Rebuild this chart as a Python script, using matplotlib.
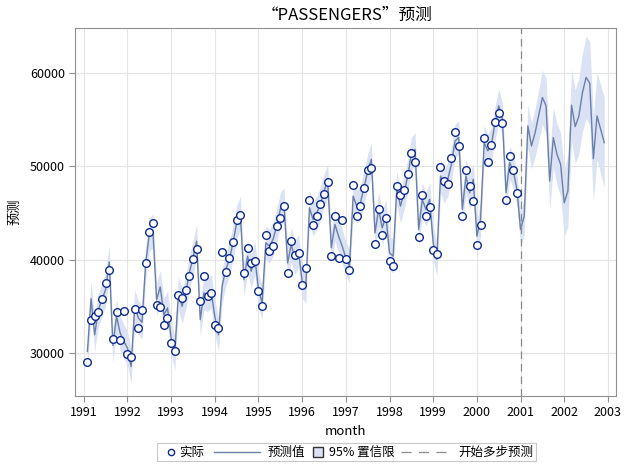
import numpy as np
import matplotlib
matplotlib.use('Agg')
import matplotlib.pyplot as plt
from matplotlib.lines import Line2D
from matplotlib.patches import Rectangle

plt.rcParams['font.family'] = ['Noto Sans CJK SC', 'DejaVu Sans']

# actual monthly values, Feb 1991 .. Dec 2000
actual = [29010, 33560, 33950, 34380, 35780, 37490, 38890, 31515, 34380, 31400, 34520,
          29900, 29550, 34740, 32700, 34630, 39680, 42970, 43940, 35140, 34920, 33020, 33770,
          31090, 30190, 36200, 35920, 36780, 38250, 40070, 41180, 35560, 38250, 36100, 36420,
          33020, 32660, 40860, 38710, 40180, 41930, 44260, 44760, 38570, 41290, 39640, 39890,
          36640, 35060, 42650, 40970, 41500, 43620, 44480, 45770, 38570, 42040, 40500, 40720,
          37280, 39110, 46410, 43720, 44690, 45980, 47060, 48350, 40400, 44690, 40210, 44260,
          40070, 38850, 48020, 44690, 45770, 47700, 49630, 49850, 41720, 45440, 42650, 44480,
          39860, 39360, 47920, 46950, 47410, 49200, 51460, 50490, 42440, 46950, 44690, 45660,
          41040, 40640, 49950, 48380, 48130, 50920, 53710, 52210, 44620, 49560, 47920, 46300,
          41610, 43720, 53070, 50420, 52320, 54790, 55680, 54610, 46410, 51060, 49630, 47090]

# one-step predictions over the same months
fitted = [30150, 35810, 31945, 34630, 35700, 36780, 39750, 30800, 33910, 32130, 31230,
          30510, 28540, 34990, 33740, 33270, 39640, 42690, 43040, 35700, 37060, 34090, 34810,
          31590, 29980, 36420, 34990, 36420, 38570, 40180, 41970, 33560, 36420, 36240, 36600,
          33910, 31950, 37140, 38930, 40000, 41790, 43940, 45010, 37850, 40360, 38750, 40180,
          36780, 35350, 41790, 41430, 42150, 43580, 45370, 45910, 39640, 41610, 40180, 40900,
          37670, 37140, 45550, 44300, 45010, 45910, 47340, 48410, 41250, 43760, 42510, 41430,
          40180, 39280, 46800, 45730, 46090, 47700, 49490, 50740, 42860, 45370, 43400, 44660,
          40720, 40360, 47700, 45730, 47160, 48950, 51280, 51810, 43220, 46450, 45370, 46450,
          41790, 40000, 48950, 47880, 48590, 50200, 52710, 53070, 45370, 48950, 47160, 48590,
          42510, 44300, 52530, 51640, 52350, 54680, 56470, 55040, 47160, 50380, 49490, 47520]

# multi-step forecast, Jan 2001 .. Dec 2002
forecast = [43220, 44650, 54320, 52170, 53600, 55500, 57370, 56470, 48410, 53070, 51280, 50200,
            46090, 47340, 56540, 54250, 55330, 57900, 59510, 58900, 50810, 55390, 53960, 52530]
fc_half = [1750, 2000, 2300, 2450, 2600, 2750, 2900, 3000, 3100, 3200, 3300, 3400,
           3600, 3750, 3850, 3950, 4050, 4200, 4400, 4500, 4550, 4650, 4750, 4850]
hist_half = 1800

t_act = 1991 + np.arange(1, 1 + len(actual)) / 12
t_fc = 2001 + np.arange(len(forecast)) / 12
t_all = np.concatenate([t_act, t_fc])
pred = np.concatenate([fitted, forecast])
half = np.concatenate([np.full(len(fitted), hist_half), fc_half])

c_band = '#dae2f4'
c_line = '#6a80a8'
c_mark = '#0d2a8c'
c_ref = '#8a8a8a'

fig = plt.figure(figsize=(6.29, 4.68), dpi=100)
ax = fig.add_axes((0.120, 0.154, 0.859, 0.786))

ax.fill_between(t_all, pred - half, pred + half, color=c_band, lw=0, zorder=1)
ax.plot(t_all, pred, color=c_line, lw=1.0, zorder=2)
ax.plot(t_act, actual, 'o', ms=5.5, mfc='white', mec=c_mark, mew=1.0, zorder=3)
ax.axvline(2001, color=c_ref, lw=0.9, ls=(0, (6, 4)), zorder=2)

ax.set_xlim(1990.81, 2003.18)
ax.set_ylim(25390, 64800)
ax.set_xticks(range(1991, 2004))
ax.set_yticks([30000, 40000, 50000, 60000])
ax.grid(True, color='#e4e4e4', lw=0.8, zorder=0)
ax.set_axisbelow(True)
for s in ax.spines.values():
    s.set_color('#8f8f8f')
ax.tick_params(colors='#8f8f8f', labelcolor='black', labelsize=9, length=4)

ax.set_xlabel('month', fontsize=9.5, labelpad=4)
ax.set_ylabel('预测', fontsize=9.5, labelpad=6)
fig.suptitle('“PASSENGERS”预测', x=0.551, y=0.986, fontsize=12)

# legend drawn by hand (pixel positions / figure size)
W, H = 629.0, 468.0
yc = 1 - 452 / H
fig.add_artist(Rectangle((157 / W, 1 - 461 / H), 379 / W, 18 / H, transform=fig.transFigure,
                         fill=False, ec='#c8c8c8', lw=0.8))
fig.add_artist(Line2D([171 / W], [yc], marker='o', ms=4.5, mfc='white', mec=c_mark, mew=1.0,
                      transform=fig.transFigure))
fig.add_artist(Line2D([214 / W, 260 / W], [yc, yc], color=c_line, lw=1.0,
                      transform=fig.transFigure))
fig.add_artist(Line2D([318 / W], [yc], marker='s', ms=6.5, mfc=c_band, mec='#333333', mew=1.0,
                      transform=fig.transFigure))
fig.add_artist(Line2D([401 / W, 448 / W], [yc, yc], color=c_ref, lw=0.9, ls=(0, (8, 6)),
                      transform=fig.transFigure))
for x0, s in [(179, '实际'), (268, '预测值'), (329, '95% 置信限'), (458, '开始多步预测')]:
    fig.text(x0 / W, yc, s, fontsize=9, ha='left', va='center')

fig.savefig('out.png', dpi=100)
